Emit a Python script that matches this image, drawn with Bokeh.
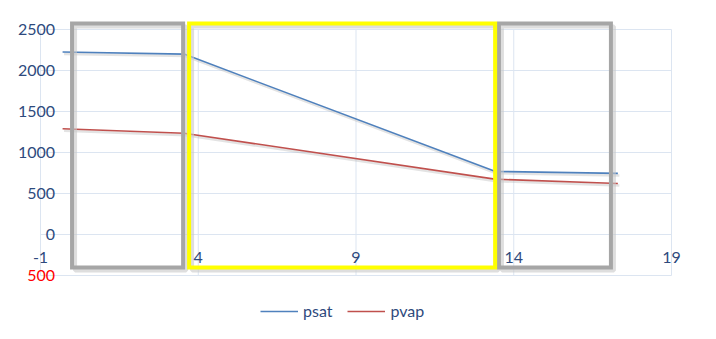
from bokeh.plotting import figure
from bokeh.models import Range1d, Legend, LegendItem, ColumnDataSource
from bokeh.core.properties import value
from bokeh.embed import file_html
from bokeh.resources import INLINE

# ---- data ----
x_vals = [-0.3, 3.55, 13.4, 17.3]
psat = [2225, 2200, 770, 745]
pvap = [1290, 1235, 675, 622]

x_ticks = [-1, 4, 9, 14, 19]
x_tick_labels = ["-1", "4", "9", "14", "19"]
y_ticks = [-500, 0, 500, 1000, 1500, 2000, 2500]
y_tick_labels = ["500", "0", "500", "1000", "1500", "2000", "2500"]

# highlighted regions (data units)
gray_left = [0.0, 13.53]
gray_right = [3.52, 17.08]
yellow_left = [3.71]
yellow_right = [13.41]
region_top = 2573
region_bottom = -402

# ---- layout helpers (pixel scale) ----
W, H = 716, 339
px_left, px_right = 40, 671      # pixel of first / last x tick
py_top, py_bottom = 29, 275      # pixel of top / bottom y tick
sx = (px_right - px_left) / (x_ticks[-1] - x_ticks[0])
sy = (py_bottom - py_top) / (y_ticks[-1] - y_ticks[0])
x_start = x_ticks[0] - px_left / sx
x_end = x_ticks[-1] + (W - px_right) / sx
y_end = y_ticks[-1] + py_top / sy
y_start = y_ticks[0] - (H - py_bottom) / sy

p = figure(width=W, height=H, output_backend="svg", toolbar_location=None,
           x_range=Range1d(x_start, x_end), y_range=Range1d(y_start, y_end),
           min_border=0, min_border_left=0, min_border_right=0,
           min_border_top=0, min_border_bottom=0)
p.xaxis.visible = False
p.yaxis.visible = False
p.grid.visible = False
p.outline_line_color = None
p.background_fill_color = "white"
p.border_fill_color = "white"

grid_color = "#dce5f1"
# horizontal gridlines
p.segment(x0=[x_ticks[0]] * len(y_ticks), x1=[x_ticks[-1]] * len(y_ticks),
          y0=y_ticks, y1=y_ticks, line_color=grid_color, line_width=1)
# vertical gridlines
p.segment(x0=x_ticks, x1=x_ticks, y0=[y_ticks[0]] * len(x_ticks),
          y1=[y_ticks[-1]] * len(x_ticks), line_color=grid_color, line_width=1)

# line shadows
dsx = 1.5 / sx
dsy = 2.0 / sy
p.line([v + dsx for v in x_vals], [v - dsy for v in psat], line_color="#b0b0b0",
       line_alpha=0.35, line_width=2.5)
p.line([v + dsx for v in x_vals], [v - dsy for v in pvap], line_color="#b0b0b0",
       line_alpha=0.35, line_width=2.5)

r_psat = p.line(x_vals, psat, line_color="#4f81bd", line_width=1.6)
r_pvap = p.line(x_vals, pvap, line_color="#c0504d", line_width=1.6)

# region rectangles with soft shadows
offx = 3 / sx
offy = 3 / sy
p.quad(left=[v + offx for v in gray_left], right=[v + offx for v in gray_right],
       top=[region_top - offy] * 2, bottom=[region_bottom - offy] * 2,
       fill_alpha=0, line_color="#c8c8c8", line_alpha=0.6, line_width=4)
p.quad(left=[v + offx for v in yellow_left], right=[v + offx for v in yellow_right],
       top=[region_top - offy], bottom=[region_bottom - offy],
       fill_alpha=0, line_color="#c8c8c8", line_alpha=0.6, line_width=4)
p.quad(left=gray_left, right=gray_right, top=[region_top] * 2, bottom=[region_bottom] * 2,
       fill_alpha=0, line_color="#a6a6a6", line_width=4, line_join="miter")
p.quad(left=yellow_left, right=yellow_right, top=[region_top], bottom=[region_bottom],
       fill_alpha=0, line_color="#ffff00", line_width=4, line_join="miter")

label_color = "#2e4a7d"
font = value("Lato")

# y tick labels (axis crossing at x=0)
ysrc = ColumnDataSource(dict(x=[0] * (len(y_ticks) - 1), y=y_ticks[1:], t=y_tick_labels[1:]))
p.text(x="x", y="y", text="t", source=ysrc, text_align="right", text_baseline="middle",
       x_offset=-17, text_font=font, text_font_size="16px", text_color=label_color)
nsrc = ColumnDataSource(dict(x=[0], y=y_ticks[:1], t=y_tick_labels[:1]))
p.text(x="x", y="y", text="t", source=nsrc, text_align="right", text_baseline="middle",
       x_offset=-17, text_font=font, text_font_size="16px", text_color="#ff0000")

# x tick labels (axis crossing at y=0)
xsrc = ColumnDataSource(dict(x=x_ticks, y=[0] * len(x_ticks), t=x_tick_labels))
p.text(x="x", y="y", text="t", source=xsrc, text_align="center", text_baseline="middle",
       y_offset=23, text_font=font, text_font_size="16px", text_color=label_color)

legend = Legend(items=[LegendItem(label="psat", renderers=[r_psat]),
                       LegendItem(label="pvap", renderers=[r_pvap])],
                orientation="horizontal", location=(260, 19),
                glyph_width=38, glyph_height=14, label_standoff=5, spacing=15,
                padding=0, margin=0, border_line_color=None, background_fill_alpha=0,
                label_text_font="Lato", label_text_font_size="16px",
                label_text_color=label_color)
p.add_layout(legend)

open("out.html", "w").write(file_html(p, INLINE))
